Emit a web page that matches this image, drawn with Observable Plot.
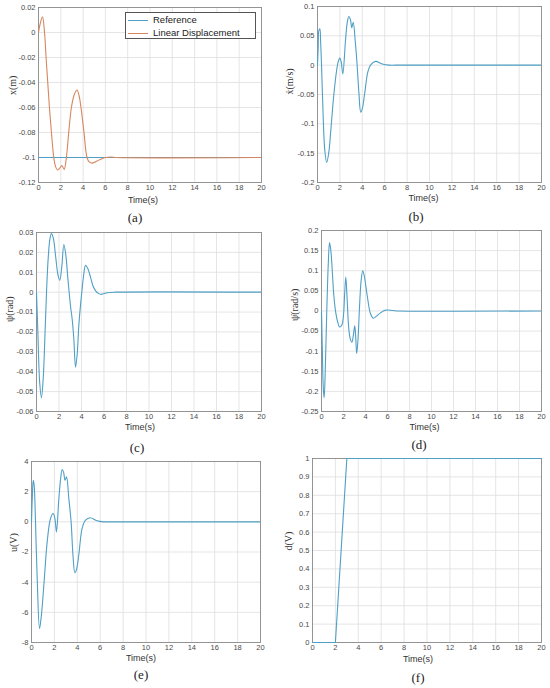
<!DOCTYPE html>
<html><head><meta charset="utf-8">
<script src="https://cdn.jsdelivr.net/npm/d3@7"></script>
<script src="https://cdn.jsdelivr.net/npm/@observablehq/plot@0.6"></script>
<style>
body{margin:0;background:#fff;}
#fig{position:relative;width:550px;height:688px;background:#fff;overflow:hidden;}
.panel{position:absolute;}
.cap{position:absolute;font-family:"Liberation Serif","DejaVu Serif",serif;font-size:13px;color:#222;transform:translate(-50%,-50%);white-space:nowrap;}
.legend{position:absolute;border:1px solid #555;background:#fff;font-family:"Liberation Sans",Arial,sans-serif;font-size:9.5px;color:#222;box-sizing:border-box;}
.legend .row{position:absolute;left:0;height:12px;line-height:12px;white-space:nowrap;}
.legend .sw{position:absolute;left:2px;top:6px;width:20px;height:0;border-top:1.2px solid;}
.legend .lb{position:absolute;left:27px;top:0;}
</style></head><body><div id="fig"></div>
<script>
// ---------- data ----------
const timeTicks = [0, 2, 4, 6, 8, 10, 12, 14, 16, 18, 20];

// (a) linear displacement x(m)
const refTime = [0, 20];
const refValue = [-0.1, -0.1];
const xTime = [0, 0.15, 0.36, 0.54, 0.68, 0.83, 0.98, 1.16, 1.37, 1.52, 1.7, 1.9, 2.1, 2.3, 2.5, 2.71, 2.95, 3.2, 3.45, 3.65, 3.81, 4.08, 4.35, 4.55, 4.8, 5.1, 5.4, 5.7, 6.0, 6.5, 7.0, 20];
const xValue = [0, 0.007, 0.0125, 0, -0.02, -0.04, -0.06, -0.08, -0.1, -0.107, -0.110, -0.1085, -0.1065, -0.1095, -0.1, -0.08, -0.06, -0.05, -0.046, -0.051, -0.06, -0.08, -0.1, -0.1035, -0.1045, -0.1035, -0.1021, -0.101, -0.1, -0.0996, -0.1, -0.1];
const yTicksA = [-0.12, -0.1, -0.08, -0.06, -0.04, -0.02, 0, 0.02];

// (b) velocity x-dot (m/s)
const vTime = [0, 0.06, 0.12, 0.21, 0.28, 0.36, 0.51, 0.65, 0.82, 1.0, 1.16, 1.3, 1.46, 1.7, 1.85, 1.99, 2.12, 2.26, 2.5, 2.65, 2.8, 2.95, 3.06, 3.19, 3.39, 3.54, 3.7, 3.86, 4.0, 4.2, 4.49, 4.73, 5.18, 5.78, 6.4, 7, 20];
const vValue = [0, 0.03, 0.059, 0.062, 0.04, 0, -0.089, -0.145, -0.166, -0.15, -0.118, -0.085, -0.05, -0.01, 0.006, 0.012, 0.005, -0.015, 0.042, 0.072, 0.083, 0.077, 0.064, 0.073, 0.036, 0, -0.048, -0.08, -0.074, -0.05, -0.012, 0, 0.0065, 0.002, 0, 0, 0];
const yTicksB = [-0.2, -0.15, -0.1, -0.05, 0, 0.05, 0.1];

// (c) angle psi (rad)
const psiTime = [0, 0.12, 0.28, 0.44, 0.6, 0.75, 0.89, 1.05, 1.2, 1.33, 1.5, 1.7, 1.9, 2.07, 2.25, 2.43, 2.6, 2.79, 3.02, 3.17, 3.32, 3.47, 3.62, 3.76, 3.92, 4.06, 4.2, 4.36, 4.55, 4.8, 5.0, 5.24, 5.5, 5.75, 6.28, 7, 20];
const psiValue = [0, -0.02, -0.045, -0.053, -0.043, -0.022, 0, 0.018, 0.027, 0.0295, 0.027, 0.018, 0.009, 0.006, 0.013, 0.024, 0.019, 0.0068, -0.0068, -0.0135, -0.0237, -0.0377, -0.031, -0.0169, -0.006, 0.0017, 0.009, 0.0135, 0.012, 0.0076, 0.0035, 0.0008, -0.0006, -0.0011, -0.0003, 0, 0];
const yTicksC = [-0.06, -0.05, -0.04, -0.03, -0.02, -0.01, 0, 0.01, 0.02, 0.03];

// (d) angular velocity psi-dot (rad/s)
const wTime = [0, 0.08, 0.16, 0.24, 0.34, 0.48, 0.62, 0.73, 0.85, 1.0, 1.12, 1.3, 1.45, 1.65, 1.85, 2.0, 2.1, 2.21, 2.33, 2.48, 2.62, 2.76, 2.9, 3.02, 3.1, 3.2, 3.32, 3.45, 3.6, 3.75, 3.9, 4.15, 4.45, 4.7, 5.0, 5.3, 5.82, 6.5, 7, 20];
const wValue = [0, -0.1, -0.19, -0.216, -0.15, 0, 0.12, 0.17, 0.15, 0.09, 0.039, -0.005, -0.025, -0.04, -0.035, -0.01, 0.04, 0.084, 0.03, -0.044, -0.07, -0.078, -0.06, -0.037, -0.06, -0.106, -0.07, 0.006, 0.075, 0.1, 0.085, 0.039, -0.0065, -0.018, -0.013, -0.006, 0.002, 0.001, 0, 0];
const yTicksD = [-0.25, -0.2, -0.15, -0.1, -0.05, 0, 0.05, 0.1, 0.15, 0.2];

// (e) control voltage u (V)
const uTime = [0, 0.08, 0.15, 0.23, 0.35, 0.5, 0.7, 0.85, 1.08, 1.37, 1.66, 1.89, 2.05, 2.18, 2.39, 2.55, 2.68, 2.8, 2.93, 3.06, 3.26, 3.46, 3.62, 3.79, 3.95, 4.13, 4.42, 4.7, 5.13, 5.71, 6.3, 7, 20];
const uValue = [0, 1.8, 2.76, 2.43, 0, -3.8, -7.07, -6.3, -4.2, -1.33, 0.22, 0.55, 0.2, -0.67, 1.54, 2.9, 3.47, 3.3, 2.76, 2.98, 1.54, 0, -2.2, -3.38, -3.1, -2.2, -0.44, 0.1, 0.27, 0.07, 0, 0, 0];
const yTicksE = [-8, -6, -4, -2, 0, 2, 4];

// (f) disturbance d (V)
const dTime = [0, 2, 3, 20];
const dValue = [0, 0, 1, 1];
const yTicksF = [0, 0.1, 0.2, 0.3, 0.4, 0.5, 0.6, 0.7, 0.8, 0.9, 1];

const xAxisLabel = "Time(s)";
const captions = ["(a)", "(b)", "(c)", "(d)", "(e)", "(f)"];
const yLabels = ["x(m)", "\u1E8B(m/s)", "\u03C8(rad)", "\u03C8\u0307(rad/s)", "u(V)", "d(V)"];
const legendNames = ["Reference", "Linear Displacement"];

// ---------- drawing ----------
const BLUE = "#4f9fc6", ORANGE = "#d7875f";
const fmt = d => String(+d.toFixed(4));
const zip = (t, v) => t.map((ti, i) => ({t: ti, v: v[i]}));
const fig = document.getElementById("fig");

function panel(cfg) {
  const {left, L, R, T, B, series, yTicks, ylabel, ylabelDx, timeDy, timeDx, caption, capX, capY} = cfg;
  const mt = 6, mb = 30;
  const marks = [
    Plot.gridX(timeTicks, {stroke: "#dedede", strokeOpacity: 1, strokeWidth: 0.8}),
    Plot.gridY(yTicks, {stroke: "#dedede", strokeOpacity: 1, strokeWidth: 0.8}),
    Plot.axisX(timeTicks, {tickSize: 0, tickPadding: 2, tickFormat: fmt, label: null}),
    Plot.axisY(yTicks, {tickSize: 0, tickPadding: 3, tickFormat: fmt, label: null}),
    Plot.frame({stroke: "#8a8a8a", strokeWidth: 0.9})
  ];
  for (const s of series) {
    marks.push(Plot.line(zip(s.t, s.v), {x: "t", y: "v", stroke: s.color, strokeWidth: 1.1, curve: s.curve || "catmull-rom", clip: s.clip !== false}));
  }
  marks.push(Plot.text([xAxisLabel], {text: d => d, frameAnchor: "bottom", dy: timeDy, dx: timeDx, fontSize: 9, fill: "#333"}));
  marks.push(Plot.text([ylabel], {text: d => d, frameAnchor: "left", rotate: -90, dx: ylabelDx, fontSize: 10, fill: "#333", fontFamily: "'Liberation Serif', 'DejaVu Serif', serif"}));
  const plot = Plot.plot({
    width: 275, height: B - T + mt + mb,
    marginLeft: L - left, marginRight: left + 275 - R, marginTop: mt, marginBottom: mb,
    style: {fontFamily: "'Liberation Sans', Arial, sans-serif", fontSize: "7.5px", color: "#4a4a4a", background: "transparent", overflow: "visible"},
    x: {domain: [0, 20]},
    y: {domain: [yTicks[0], yTicks[yTicks.length - 1]]},
    marks
  });
  const div = document.createElement("div");
  div.className = "panel";
  div.style.left = left + "px";
  div.style.top = (T - mt) + "px";
  div.appendChild(plot);
  fig.appendChild(div);
  const cap = document.createElement("div");
  cap.className = "cap";
  cap.textContent = caption;
  cap.style.left = capX + "px";
  cap.style.top = capY + "px";
  fig.appendChild(cap);
}

panel({left: 0, L: 38, R: 261, T: 7, B: 182, yTicks: yTicksA, ylabel: yLabels[0], ylabelDx: -26, timeDy: 20, timeDx: -7, caption: captions[0], capX: 135, capY: 218,
  series: [{t: refTime, v: refValue, color: BLUE, curve: "linear"}, {t: xTime, v: xValue, color: ORANGE}]});
panel({left: 275, L: 317, R: 541, T: 6, B: 182, yTicks: yTicksB, ylabel: yLabels[1], ylabelDx: -28, timeDy: 18, timeDx: -6, caption: captions[1], capX: 416, capY: 217,
  series: [{t: vTime, v: vValue, color: BLUE}]});
panel({left: 0, L: 36, R: 261, T: 232, B: 411, yTicks: yTicksC, ylabel: yLabels[2], ylabelDx: -27, timeDy: 18, timeDx: -9, caption: captions[2], capX: 137, capY: 448,
  series: [{t: psiTime, v: psiValue, color: BLUE}]});
panel({left: 275, L: 321, R: 541, T: 230, B: 411, yTicks: yTicksD, ylabel: yLabels[3], ylabelDx: -27, timeDy: 18, timeDx: -7, caption: captions[3], capX: 419, capY: 445,
  series: [{t: wTime, v: wValue, color: BLUE}]});
panel({left: 0, L: 31, R: 260, T: 461, B: 642, yTicks: yTicksE, ylabel: yLabels[4], ylabelDx: -18, timeDy: 18, timeDx: -5, caption: captions[4], capX: 141, capY: 675,
  series: [{t: uTime, v: uValue, color: BLUE}]});
panel({left: 275, L: 312, R: 541, T: 458, B: 642, yTicks: yTicksF, ylabel: yLabels[5], ylabelDx: -24, timeDy: 19, timeDx: -9, caption: captions[5], capX: 418, capY: 678,
  series: [{t: dTime, v: dValue, color: BLUE, curve: "linear", clip: false}]});

// legend for (a)
const lg = document.createElement("div");
lg.className = "legend";
lg.style.left = "125px"; lg.style.top = "12px"; lg.style.width = "131px"; lg.style.height = "27px";
[[legendNames[0], BLUE, 0], [legendNames[1], ORANGE, 13]].forEach(([name, color, y]) => {
  const row = document.createElement("div");
  row.className = "row"; row.style.top = (y + 0.5) + "px";
  const sw = document.createElement("span"); sw.className = "sw"; sw.style.borderTopColor = color;
  const lb = document.createElement("span"); lb.className = "lb"; lb.textContent = name;
  row.appendChild(sw); row.appendChild(lb); lg.appendChild(row);
});
fig.appendChild(lg);
</script>
</body></html>
